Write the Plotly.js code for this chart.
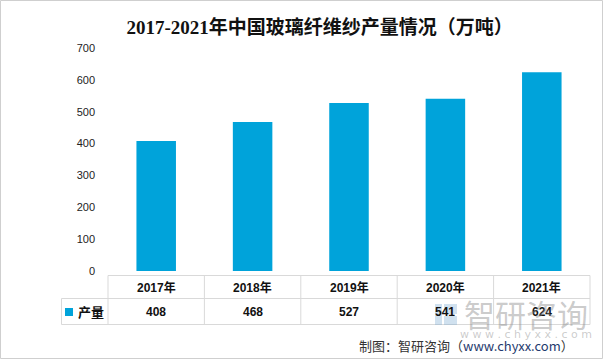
<!DOCTYPE html>
<html><head><meta charset="utf-8">
<script src="https://cdn.plot.ly/plotly-3.0.1.min.js"></script>
<style>html,body{margin:0;padding:0;background:#fff}#c{width:603px;height:359px}</style>
</head><body><div id="c"></div>
<script>
const categories = ['2017年','2018年','2019年','2020年','2021年'];
const seriesName = '产量';
const values = [408, 468, 527, 541, 624];
const yTicks = [0,100,200,300,400,500,600,700];

const W = 603, H = 359, L = 108, R = 13, T = 48, B = 88;
const pw = W - L - R, ph = H - T - B;
const px = v => (v - L) / pw;          // pixel x -> paper
const py = v => (H - B - v) / ph;      // pixel y -> paper
const gridC = '#d9d9d9';
const yTop = py(275.5), yMid = py(298.5), yBot = py(324.5), xLeft = px(61.5);

const shapes = [];
// outer border
shapes.push({type:'rect', xref:'paper', yref:'paper', x0:px(0.5), x1:px(602.5), y0:py(358.5), y1:py(0.5), line:{color:'#cfcfcf', width:1}});
// horizontal table lines
shapes.push({type:'line', xref:'paper', yref:'paper', x0:0, x1:1, y0:yTop, y1:yTop, line:{color:gridC,width:1}});
shapes.push({type:'line', xref:'paper', yref:'paper', x0:xLeft, x1:1, y0:yMid, y1:yMid, line:{color:gridC,width:1}});
shapes.push({type:'line', xref:'paper', yref:'paper', x0:xLeft, x1:1, y0:yBot, y1:yBot, line:{color:gridC,width:1}});
shapes.push({type:'line', xref:'paper', yref:'paper', x0:xLeft, x1:xLeft, y0:yMid, y1:yBot, line:{color:gridC,width:1}});
for (let i = 0; i <= categories.length; i++) {
  const xp = i / categories.length;
  shapes.push({type:'line', xref:'paper', yref:'paper', x0:xp, x1:xp, y0:yTop, y1:yBot, line:{color:gridC,width:1}});
}
// legend square
shapes.push({type:'rect', xref:'paper', yref:'paper', x0:px(65), x1:px(73), y0:py(316), y1:py(308), fillcolor:'#00A3DA', line:{width:0}});
// watermark logo blocks
shapes.push({type:'rect', xref:'paper', yref:'paper', x0:px(435), x1:px(442), y0:py(325), y1:py(304), fillcolor:'rgba(120,170,210,0.35)', line:{width:0}});
shapes.push({type:'rect', xref:'paper', yref:'paper', x0:px(444), x1:px(457), y0:py(314), y1:py(304), fillcolor:'rgba(120,170,210,0.35)', line:{width:0}});
shapes.push({type:'rect', xref:'paper', yref:'paper', x0:px(444), x1:px(457), y0:py(325), y1:py(316), fillcolor:'rgba(120,170,210,0.35)', line:{width:0}});

const tf = 'Liberation Sans, Noto Sans CJK SC, sans-serif';
const annotations = [];
const A = o => annotations.push(Object.assign({showarrow:false, xanchor:'center', yanchor:'middle'}, o));
categories.forEach((c, i) => {
  A({xref:'x', yref:'paper', x:i, y:(yTop+yMid)/2, text:'<b>'+c+'</b>', font:{family:tf,size:12,color:'#111'}});
  A({xref:'x', yref:'paper', x:i, y:(yMid+yBot)/2, text:'<b>'+values[i]+'</b>', font:{family:tf,size:12,color:'#111'}});
});
A({xref:'paper', yref:'paper', x:px(76), y:(yMid+yBot)/2, xanchor:'left', text:'<b>'+seriesName+'</b>', font:{family:'Noto Sans CJK SC, sans-serif',size:13,color:'#111'}});
// watermark
A({xref:'paper', yref:'paper', x:px(526), y:py(313), text:'智研咨询', font:{family:'Noto Sans CJK SC, sans-serif',size:31,color:'rgba(140,140,140,0.45)'}});
A({xref:'paper', yref:'paper', x:px(526), y:py(334), text:'w w w . c h y x x . c o m', font:{family:'DejaVu Sans, sans-serif',size:11,color:'rgba(140,140,140,0.45)'}});
// source
A({xref:'paper', yref:'paper', x:px(576), y:py(345), xanchor:'right', text:'制图：智研咨询（<span style="color:#1f3a6e">www.chyxx.com</span>）', font:{family:'Noto Sans CJK SC, sans-serif',size:13,color:'#333'}});

const data = [{
  type:'bar', x:categories, y:values, name:seriesName,
  marker:{color:'#00A3DA'}, hoverinfo:'skip'
}];

const layout = {
  width:W, height:H, margin:{l:L, r:R, t:T, b:B},
  paper_bgcolor:'#fff', plot_bgcolor:'#fff', showlegend:false, bargap:0.59,
  title:{text:'<b>2017-2021年中国玻璃纤维纱产量情况（万吨）</b>', x:0.53, xanchor:'center', y:0.925, yanchor:'middle',
    font:{family:'Liberation Serif, Noto Sans CJK SC, serif', size:19, color:'#111'}},
  xaxis:{type:'category', showticklabels:false, showline:false, showgrid:false, zeroline:false, fixedrange:true},
  yaxis:{range:[0,700], tickvals:yTicks, ticktext:yTicks.map(String), showgrid:false, zeroline:false, showline:false,
    ticks:'', ticklabelstandoff:12, tickfont:{family:'Liberation Sans, DejaVu Sans, sans-serif', size:11, color:'#222'}},
  shapes:shapes, annotations:annotations
};
Plotly.newPlot('c', data, layout, {staticPlot:true, displayModeBar:false});
</script></body></html>
